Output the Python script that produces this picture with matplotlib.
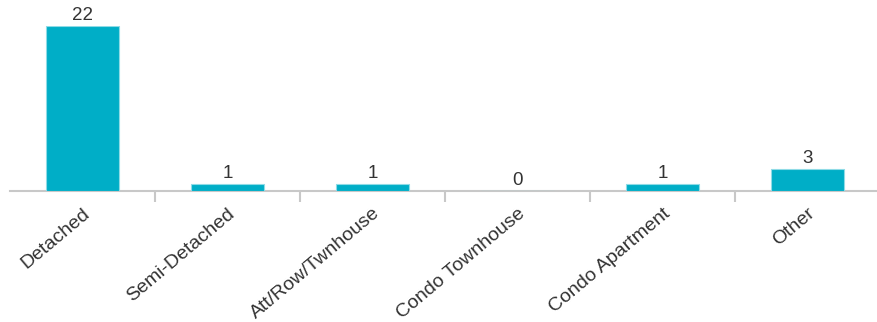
import numpy as np
import matplotlib.pyplot as plt

categories = ["Detached", "Semi-Detached", "Att/Row/Twnhouse", "Condo Townhouse",
              "Condo Apartment", "Other"]
counts = [22, 1, 1, 0, 1, 3]

plt.rcParams['font.family'] = ['Liberation Sans', 'DejaVu Sans']

fig = plt.figure(figsize=(8.78, 3.22), dpi=100)
ax = fig.add_axes([10 / 878, 131 / 322, 870 / 878, 165 / 322])

x = np.arange(len(categories))
bars = ax.bar(x, counts, width=0.5, color='#00AEC7', edgecolor='#8fdbe6',
              linewidth=0.8, zorder=3)
for xi, v in zip(x, counts):
    ax.text(xi, v + 0.25, str(v), ha='center', va='bottom', fontsize=13.5, color='#333333')

ax.set_xlim(-0.5, len(categories) - 0.5)
ax.set_ylim(0, 22)
for s in ['top', 'right', 'left']:
    ax.spines[s].set_visible(False)
ax.spines['bottom'].set_color('#c8c8c8')
ax.spines['bottom'].set_linewidth(1.5)
ax.set_yticks([])

ax.set_xticks(x)
ax.set_xticklabels(categories, rotation=40, ha='right', rotation_mode='anchor',
                   fontsize=14, color='#333333')
ax.tick_params(axis='x', which='major', length=0, pad=10)
ax.set_xticks(np.arange(0.5, len(categories) - 0.5), minor=True)
ax.tick_params(axis='x', which='minor', length=8, width=1.5, color='#c8c8c8')

fig.savefig('out.png', dpi=100)
